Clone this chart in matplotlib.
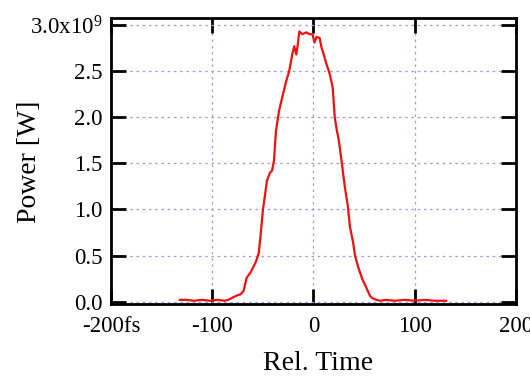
import matplotlib
matplotlib.use("Agg")
import matplotlib.pyplot as plt

# Data (time in fs, power in units of 1e9 W)
time_fs = [-132, -125, -118, -110, -102, -95, -88, -84, -79, -75, -72, -69, -66, -62,
           -57, -54, -52, -50, -48, -46, -43, -41, -39, -37, -34, -31, -27, -24, -21,
           -19, -17, -16, -14, -11, -7, -4, -1, 1, 3, 6, 8, 9, 13, 16, 19, 21, 23, 25,
           28, 31, 34, 36, 39, 41, 44, 48, 51, 53, 56, 58, 62, 66, 72, 80, 90, 100,
           110, 120, 131]
power_gw = [0.02, 0.02, 0.01, 0.02, 0.01, 0.02, 0.01, 0.02, 0.05, 0.07, 0.08, 0.12, 0.26, 0.32,
            0.43, 0.53, 0.75, 0.99, 1.15, 1.31, 1.40, 1.42, 1.53, 1.86, 2.07, 2.21, 2.39, 2.50, 2.68,
            2.77, 2.68, 2.75, 2.93, 2.90, 2.92, 2.90, 2.90, 2.81, 2.87, 2.86, 2.75, 2.72, 2.57, 2.47,
            2.32, 2.00, 1.86, 1.75, 1.50, 1.24, 1.03, 0.81, 0.65, 0.50, 0.38, 0.25, 0.18, 0.13, 0.06,
            0.04, 0.02, 0.01, 0.02, 0.01, 0.02, 0.01, 0.02, 0.01, 0.01]

x_ticks = [-200, -100, 0, 100, 200]
x_ticklabels = ["-200fs", "-100", "0", "100", "200"]
y_ticks = [0.0, 0.5, 1.0, 1.5, 2.0, 2.5, 3.0]
y_ticklabels = ["0.0", "0.5", "1.0", "1.5", "2.0", "2.5", "3.0x10$^{9}$"]

plt.rcParams["font.family"] = ["Liberation Serif", "DejaVu Serif"]
plt.rcParams["mathtext.fontset"] = "custom"
plt.rcParams["mathtext.rm"] = "Liberation Serif"
plt.rcParams["mathtext.it"] = "Liberation Serif:italic"
plt.rcParams["mathtext.bf"] = "Liberation Serif:bold"

fig = plt.figure(figsize=(5.30, 3.81), dpi=100)
ax = fig.add_axes([0.2094, 0.2021, 0.7642, 0.7507])

ax.plot(time_fs, power_gw, color="#ee1111", lw=1.6, zorder=3)

ax.set_xlim(-200, 200)
ax.set_ylim(-0.025, 3.076)
ax.set_xticks(x_ticks)
ax.set_xticklabels(x_ticklabels)
ax.set_yticks(y_ticks)
ax.set_yticklabels(y_ticklabels)

ax.grid(True, color="#9a9ae6", linestyle=(0, (2, 3)), linewidth=0.9)
ax.tick_params(direction="in", length=11, width=2, top=True, right=True,
               labelsize=16.5, colors="black")
ax.tick_params(axis="x", pad=9)
ax.tick_params(axis="y", pad=6)
for s in ax.spines.values():
    s.set_linewidth(2)

fig.text(318 / 530, 1 - 370 / 381, "Rel. Time", fontsize=20, ha="center", va="baseline")
fig.text(30 / 530, 1 - 162 / 381, "Power [W]", fontsize=20, ha="center", va="center",
         rotation=90)

fig.savefig("out.png", dpi=100)
